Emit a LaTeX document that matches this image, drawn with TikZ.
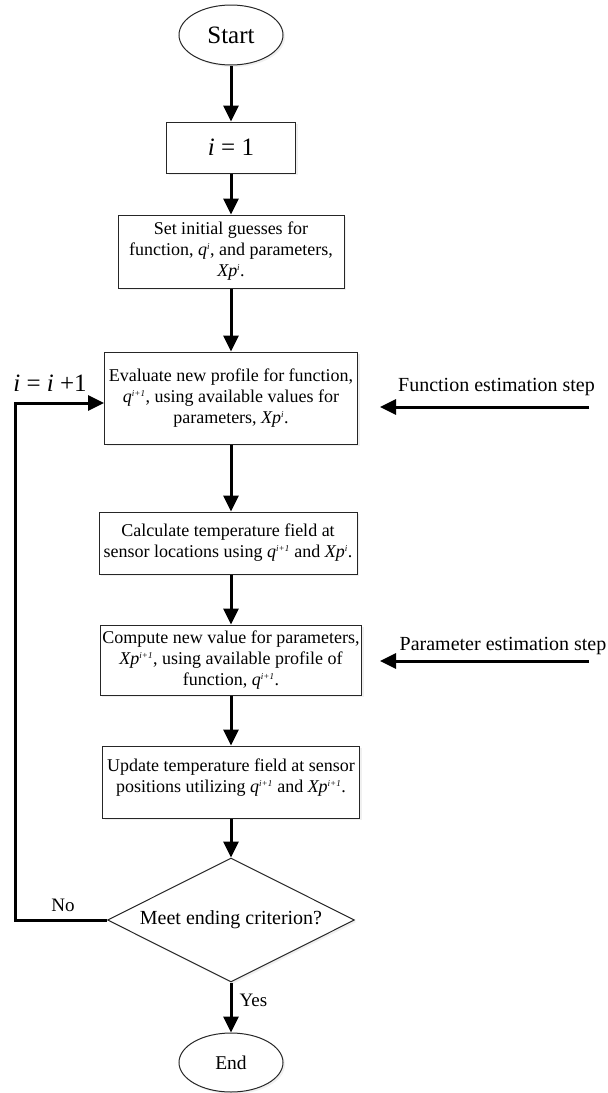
\documentclass[tikz,border=0pt]{standalone}
\usepackage{fontspec}
\setmainfont{Liberation Serif}
\usetikzlibrary{arrows.meta,shapes.geometric,shadows}
\newcommand\spr[1]{\textsuperscript{\fontsize{9}{9}\selectfont\itshape #1}}
\begin{document}
\begin{tikzpicture}[x=1pt,y=-1pt,
  box/.style={draw=black!85, line width=1pt, fill=white, align=center, inner sep=2pt,
    font=\fontsize{18}{21}\selectfont,
    drop shadow={shadow xshift=2pt, shadow yshift=-2pt, opacity=0.12}},
  term/.style={ellipse, draw=black!85, line width=1pt, fill=white, inner sep=0pt,
    minimum width=104pt, minimum height=60pt,
    drop shadow={shadow xshift=2pt, shadow yshift=-2pt, opacity=0.12}},
  arr/.style={line width=3pt, -{Triangle[length=16pt,width=15pt]}},
  side/.style={font=\fontsize{20}{22}\selectfont, inner sep=0pt},
  lab/.style={font=\fontsize{19}{21}\selectfont, inner sep=0pt}
]
\useasboundingbox (0,0) rectangle (608,1093);

\node[term, font=\fontsize{25}{27}\selectfont] (start) at (231,35) {Start};
\node[box, minimum width=129pt, minimum height=51pt, font=\fontsize{25}{27}\selectfont] (init) at (231,147.5) {\textit{i} = 1};
\node[box, minimum width=226pt, minimum height=73pt] (guess) at (231,251.5)
  {Set initial guesses for\\function, \textit{q}\spr{i}, and parameters,\\\textit{Xp}\spr{i}.};
\node[box, minimum width=253pt, minimum height=92pt] (eval) at (231,398)
  {Evaluate new profile for function,\\\textit{q}\spr{i+1}, using available values for\\parameters, \textit{Xp}\spr{i}.};
\node[box, minimum width=258pt, minimum height=62pt] (calc) at (228,543)
  {Calculate temperature field at\\sensor locations using \textit{q}\spr{i+1} and \textit{Xp}\spr{i}.};
\node[box, minimum width=255pt, minimum height=70pt] (comp) at (231,660)
  {Compute new value for parameters,\\\textit{Xp}\spr{i+1}, using available profile of\\function, \textit{q}\spr{i+1}.};
\node[box, minimum width=257pt, minimum height=72pt] (upd) at (231,782)
  {Update temperature field at sensor\\positions utilizing \textit{q}\spr{i+1} and \textit{Xp}\spr{i+1}.\\[-8pt]\mbox{}};
\node[diamond, aspect=2, draw=black!85, line width=1pt, fill=white, inner sep=0pt,
  minimum width=247pt, minimum height=124pt, font=\fontsize{20}{22}\selectfont,
  drop shadow={shadow xshift=2pt, shadow yshift=-2pt, opacity=0.12}] (dec) at (231,920)
  {Meet ending criterion?};
\node[term, minimum height=59pt, font=\fontsize{19.5}{21}\selectfont] (end) at (231,1062.5) {End};

% main flow
\draw[arr] (start) -- (init);
\draw[arr] (init) -- (guess);
\draw[arr] (guess) -- (eval);
\draw[arr] (eval.south) -- (eval.south |- calc.north);
\draw[arr] (comp.north |- calc.south) -- (comp.north);
\draw[arr] (comp) -- (upd);
\draw[arr] (upd) -- (dec);
\draw[arr] (dec) -- node[lab, anchor=west, xshift=7pt, pos=0.35] (yes) {Yes} (end);

% loop back
\coordinate (loopx) at (15,0);
\draw[arr] (dec.west) -- (dec.west -| loopx) |- ([yshift=-5pt]eval.west);
\node[lab] (no) at (63,905) {No};
\node[font=\fontsize{25}{27}\selectfont, inner sep=0pt] (inc) at (50,383) {\textit{i} = \textit{i} +1};

% side inputs
\coordinate (fs) at (589,407);
\coordinate (fe) at (380,407);
\draw[arr] (fs) -- (fe);
\node[side] (flab) at (496.5,387) {Function estimation step};
\coordinate (ps) at (589,661);
\coordinate (pe) at (380,661);
\draw[arr] (ps) -- (pe);
\node[side] (plab) at (503,646) {Parameter estimation step};
\end{tikzpicture}
\end{document}
